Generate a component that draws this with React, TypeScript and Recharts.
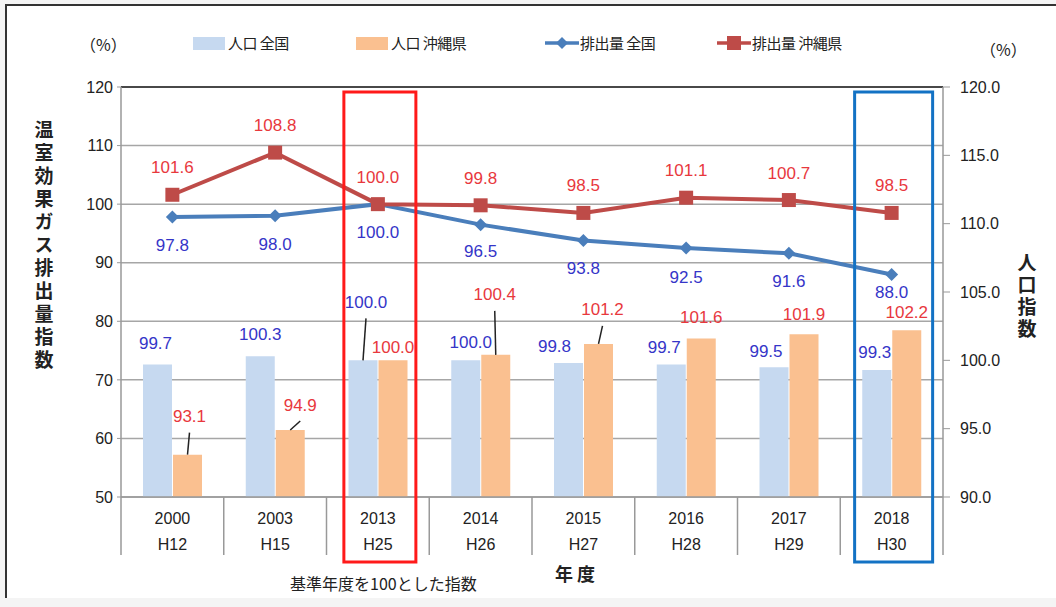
import React from 'react'
import {
  ComposedChart, Bar, Line, XAxis, YAxis, CartesianGrid, LabelList, ReferenceLine,
} from 'recharts'

const years      = ['2000', '2003', '2013', '2014', '2015', '2016', '2017', '2018']
const eras       = ['H12', 'H15', 'H25', 'H26', 'H27', 'H28', 'H29', 'H30']
const popJapan   = [99.7, 100.3, 100.0, 100.0, 99.8, 99.7, 99.5, 99.3]
const popOkinawa = [93.1, 94.9, 100.0, 100.4, 101.2, 101.6, 101.9, 102.2]
const ghgJapan   = [97.8, 98.0, 100.0, 96.5, 93.8, 92.5, 91.6, 88.0]
const ghgOkinawa = [101.6, 108.8, 100.0, 99.8, 98.5, 101.1, 100.7, 98.5]
const leftTicks  = [50, 60, 70, 80, 90, 100, 110, 120]
const rightTicks = [90, 95, 100, 105, 110, 115, 120]

const data = years.map((y, i) => ({
  year: y,
  era: eras[i],
  popJapan: popJapan[i],
  popOkinawa: popOkinawa[i],
  ghgJapan: ghgJapan[i],
  ghgOkinawa: ghgOkinawa[i],
}))

// layout
const W = 1056
const H = 607
const PLOT_L = 121
const PLOT_R = 943
const PLOT_T = 87
const PLOT_B = 497
const BAND = (PLOT_R - PLOT_L) / years.length

const NUM_FONT = '"Liberation Sans", Arial, sans-serif'
const JP_FONT = '"Noto Sans CJK JP", "Noto Sans", sans-serif'

const C_BAR_JP = '#c6d9f0'
const C_BAR_OK = '#fac090'
const C_LINE_JP = '#4a7ebb'
const C_LINE_OK = '#be4b48'
const C_TXT_BLUE = '#3535c8'
const C_TXT_RED = '#e8383d'

// label nudges (hand placed like the original)
const jpBarDx = [-2, 0, 3, 5, -14, -7, -8, -2]
const jpBarDy = [-21, -22, -58, -18, -17, -17, -16, -17]
const jpBarLeader = [false, false, true, false, false, false, false, false]
const okBarDx = [2, 10, 0, -1, 4, 0, 0, 0]
const okBarDy = [-38, -25, -13, -60, -34, -21, -20, -18]
const okBarLeader = [true, true, false, true, true, false, false, false]
const jpLineDy = [28, 29, 28, 27, 28, 29, 28, 18]

const makeBarLabel = (dxs: number[], dys: number[], leaders: boolean[], color: string) =>
  // eslint-disable-next-line @typescript-eslint/no-explicit-any
  (p: any) => {
    const i = p.index
    const cx = Number(p.x) + Number(p.width) / 2
    const top = Number(p.y)
    const lx = cx + dxs[i]
    const ly = top + dys[i]
    return (
      <g key={`bl-${color}-${i}`}>
        {leaders[i] && (
          <line x1={lx} y1={ly + 16} x2={cx} y2={top} stroke="#222" strokeWidth={1.5} />
        )}
        <text x={lx} y={ly} textAnchor="middle" dominantBaseline="central"
          fontSize={17} fontFamily={NUM_FONT} fill={color}>
          {Number(p.value).toFixed(1)}
        </text>
      </g>
    )
  }

// eslint-disable-next-line @typescript-eslint/no-explicit-any
const jpLineLabel = (p: any) => (
  <text key={`jl-${p.index}`} x={p.x} y={Number(p.y) + jpLineDy[p.index]} textAnchor="middle"
    dominantBaseline="central" fontSize={17} fontFamily={NUM_FONT} fill={C_TXT_BLUE}>
    {Number(p.value).toFixed(1)}
  </text>
)

// eslint-disable-next-line @typescript-eslint/no-explicit-any
const okLineLabel = (p: any) => (
  <text key={`ol-${p.index}`} x={p.x} y={Number(p.y) - 27} textAnchor="middle"
    dominantBaseline="central" fontSize={17} fontFamily={NUM_FONT} fill={C_TXT_RED}>
    {Number(p.value).toFixed(1)}
  </text>
)

// eslint-disable-next-line @typescript-eslint/no-explicit-any
const Diamond = (p: any) => {
  const { cx, cy, index } = p
  const s = 6.5
  return <path key={`dm-${index}`} d={`M${cx},${cy - s}L${cx + s},${cy}L${cx},${cy + s}L${cx - s},${cy}Z`} fill={C_LINE_JP} />
}

// eslint-disable-next-line @typescript-eslint/no-explicit-any
const Square = (p: any) => {
  const { cx, cy, index } = p
  const s = 7
  return <rect key={`sq-${index}`} x={cx - s} y={cy - s} width={2 * s} height={2 * s} fill={C_LINE_OK} />
}

// eslint-disable-next-line @typescript-eslint/no-explicit-any
const YearTick = (p: any) => {
  const i = p.index ?? p.payload?.index ?? 0
  const x = Number(p.x)
  const left = x - BAND / 2
  const right = x + BAND / 2
  return (
    <g>
      <line x1={left} y1={PLOT_B} x2={left} y2={555} stroke="#999" strokeWidth={1.5} />
      {i === years.length - 1 && (
        <line x1={right} y1={PLOT_B} x2={right} y2={555} stroke="#999" strokeWidth={1.5} />
      )}
      <text x={x} y={518} textAnchor="middle" dominantBaseline="central"
        fontSize={16} fontFamily={NUM_FONT} fill="#222">{years[i]}</text>
      <text x={x} y={544} textAnchor="middle" dominantBaseline="central"
        fontSize={16} fontFamily={NUM_FONT} fill="#222">{eras[i]}</text>
      {i === 2 && (
        <rect x={x - 34} y={92} width={72} height={470} fill="none" stroke="#ff1a1a" strokeWidth={3} />
      )}
      {i === 7 && (
        <rect x={x - 37} y={92} width={78} height={470} fill="none" stroke="#1372c4" strokeWidth={3} />
      )}
    </g>
  )
}

const VerticalTitle = ({ text, cx, top, step }: { text: string; cx: number; top: number; step: number }) => {
  const fs = 19
  return (
    <div style={{
      position: 'absolute', left: cx - fs / 2, top, width: fs,
      writingMode: 'vertical-rl', textOrientation: 'upright', letterSpacing: step - fs,
      lineHeight: 1, fontFamily: JP_FONT, fontWeight: 700, fontSize: fs, color: '#222',
    }}>
      {text}
    </div>
  )
}

const legendText: React.CSSProperties = {
  position: 'absolute', top: 33, fontFamily: JP_FONT, fontSize: 15, lineHeight: '20px',
  color: '#222', letterSpacing: -0.5, whiteSpace: 'pre',
}

function Legend() {
  return (
    <>
      <div style={{ position: 'absolute', left: 193, top: 37, width: 32, height: 13, background: C_BAR_JP }} />
      <div style={{ ...legendText, left: 228 }}>人口 全国</div>
      <div style={{ position: 'absolute', left: 356, top: 37, width: 32, height: 13, background: C_BAR_OK }} />
      <div style={{ ...legendText, left: 391 }}>人口 沖縄県</div>
      <svg style={{ position: 'absolute', left: 544, top: 33 }} width={36} height={20}>
        <line x1={1} y1={10} x2={35} y2={10} stroke={C_LINE_JP} strokeWidth={3.5} />
        <path d="M18,4L24,10L18,16L12,10Z" fill={C_LINE_JP} />
      </svg>
      <div style={{ ...legendText, left: 580 }}>排出量 全国</div>
      <svg style={{ position: 'absolute', left: 716, top: 33 }} width={36} height={20}>
        <line x1={1} y1={10} x2={35} y2={10} stroke={C_LINE_OK} strokeWidth={3.5} />
        <rect x={11} y={3} width={14} height={14} fill={C_LINE_OK} />
      </svg>
      <div style={{ ...legendText, left: 752 }}>排出量 沖縄県</div>
    </>
  )
}

export default function App() {
  return (
    <div style={{ position: 'absolute', left: 0, top: 0, width: W, height: H, background: '#f4f4f4', overflow: 'hidden' }}>
      <div style={{
        position: 'absolute', left: 5, top: 4, width: W - 5, height: 594, background: '#fff',
        borderTop: '2px solid #333', borderLeft: '2px solid #333', boxSizing: 'border-box',
      }} />
      <div style={{ position: 'absolute', left: 0, top: 0 }}>
        <ComposedChart width={W} height={H} data={data}
          margin={{ top: PLOT_T, right: W - PLOT_R - 100, bottom: H - PLOT_B - 58, left: PLOT_L - 60 }}
          barGap={1} barSize={29}>
          <CartesianGrid yAxisId="left" vertical={false} stroke="#a6a6a6" strokeWidth={1.5} />
          <XAxis dataKey="year" height={58} interval={0} tickLine={false}
            axisLine={{ stroke: '#999', strokeWidth: 1.5 }} tick={YearTick} />
          <YAxis yAxisId="left" width={60} domain={[50, 120]} ticks={leftTicks} type="number"
            tickSize={4} tickMargin={4} axisLine={{ stroke: '#999', strokeWidth: 1.5 }}
            tickLine={{ stroke: '#999' }}
            tick={{ fontSize: 16, fill: '#222', fontFamily: NUM_FONT }} />
          <YAxis yAxisId="right" orientation="right" width={100} domain={[90, 120]} ticks={rightTicks}
            type="number" tickSize={7} tickMargin={10} axisLine={{ stroke: '#999', strokeWidth: 1.5 }}
            tickLine={{ stroke: '#999' }} tickFormatter={(v: number) => v.toFixed(1)}
            tick={{ fontSize: 16, fill: '#222', fontFamily: NUM_FONT }} />
          <ReferenceLine yAxisId="left" y={120} stroke="#222" strokeWidth={1.5} />
          <Bar yAxisId="right" dataKey="popJapan" name="人口 全国" fill={C_BAR_JP} isAnimationActive={false}>
            <LabelList dataKey="popJapan" content={makeBarLabel(jpBarDx, jpBarDy, jpBarLeader, C_TXT_BLUE)} />
          </Bar>
          <Bar yAxisId="right" dataKey="popOkinawa" name="人口 沖縄県" fill={C_BAR_OK} isAnimationActive={false}>
            <LabelList dataKey="popOkinawa" content={makeBarLabel(okBarDx, okBarDy, okBarLeader, C_TXT_RED)} />
          </Bar>
          <Line yAxisId="left" dataKey="ghgJapan" name="排出量 全国" stroke={C_LINE_JP} strokeWidth={4}
            dot={Diamond} activeDot={false} isAnimationActive={false}>
            <LabelList dataKey="ghgJapan" content={jpLineLabel} />
          </Line>
          <Line yAxisId="left" dataKey="ghgOkinawa" name="排出量 沖縄県" stroke={C_LINE_OK} strokeWidth={4}
            dot={Square} activeDot={false} isAnimationActive={false}>
            <LabelList dataKey="ghgOkinawa" content={okLineLabel} />
          </Line>
        </ComposedChart>
      </div>

      <Legend />
      <div style={{ position: 'absolute', left: 80, top: 32, fontFamily: JP_FONT, fontSize: 16, color: '#222' }}>（%）</div>
      <div style={{ position: 'absolute', left: 980, top: 37, fontFamily: JP_FONT, fontSize: 16, color: '#222' }}>（%）</div>
      <VerticalTitle text="温室効果ガス排出量指数" cx={44} top={120} step={23} />
      <VerticalTitle text="人口指数" cx={1027} top={253} step={22} />
      <div style={{ position: 'absolute', left: 555, top: 560, fontFamily: JP_FONT, fontWeight: 700, fontSize: 18, color: '#222', whiteSpace: 'pre' }}>年 度</div>
      <div style={{ position: 'absolute', left: 290, top: 571, fontFamily: JP_FONT, fontSize: 16, color: '#222' }}>基準年度を100とした指数</div>
    </div>
  )
}
